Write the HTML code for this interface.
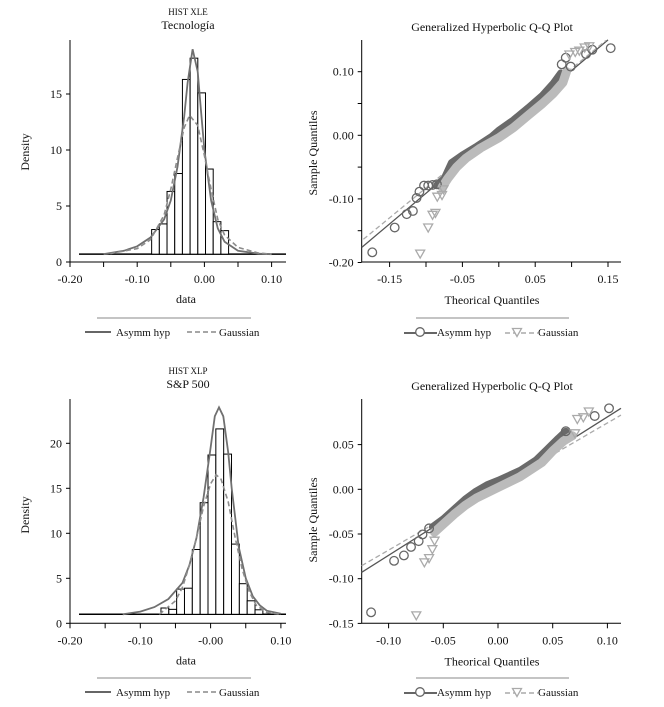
<!DOCTYPE html>
<html><head><meta charset="utf-8">
<style>
html,body{margin:0;padding:0;background:#fff;}
svg{display:block;font-family:"Liberation Serif",serif;}
</style></head>
<body>
<svg id="c" width="664" height="707" viewBox="0 0 664 707" xmlns="http://www.w3.org/2000/svg"></svg>
<script>
// ---------- Data: top histogram (Tecnologia) ----------
const h1BinStart = -0.0785;
const h1BinWidth = 0.01145;
const h1Heights = [2.9,3.4,6.3,7.9,16.3,18.2,15.1,8.3,3.6,2.8];
const h1AsymX = [-0.15,-0.12,-0.10,-0.08,-0.06,-0.05,-0.04,-0.03,-0.025,-0.0175,-0.01,-0.005,0,0.01,0.02,0.03,0.05,0.08,0.10];
const h1AsymY = [0.7,1.0,1.4,2.2,3.8,5.5,8.5,13,16,19,17,13.5,10,5.5,3,1.8,1.0,0.75,0.7];
const h1GaussX = [-0.14,-0.10,-0.08,-0.06,-0.05,-0.04,-0.03,-0.022,-0.01,0,0.01,0.02,0.03,0.05,0.08,0.10];
const h1GaussY = [0.75,1.2,2.0,4.2,6.5,9.3,12.0,13.1,12.2,9.5,6.5,3.8,2.4,1.3,0.8,0.7];
const h1YTicks = [0,5,10,15];
const h1XTicks = ["-0.20","-0.10","0.00","0.10"];
// ---------- Data: bottom histogram (S&P 500) ----------
const h2BinStart = -0.0706;
const h2BinWidth = 0.01115;
const h2Heights = [1.7,1.55,3.8,3.9,8.2,13.4,18.7,21.6,18.8,8.8,4.4,2.5,1.5];
const h2AsymX = [-0.125,-0.1,-0.08,-0.06,-0.04,-0.03,-0.02,-0.01,0,0.006,0.012,0.018,0.025,0.03,0.04,0.05,0.06,0.07,0.08,0.1];
const h2AsymY = [1.0,1.3,1.8,2.7,4.5,6.5,9.5,14,19.5,23,24,23,19,15,8.5,5,3,2,1.4,1.05];
const h2GaussX = [-0.073,-0.05,-0.04,-0.03,-0.02,-0.01,0,0.008,0.015,0.025,0.035,0.045,0.055,0.065,0.08,0.1];
const h2GaussY = [1.0,2.5,4,6.5,9.5,13,15.5,16.5,16,13.5,9.5,6,3.5,2,1.2,1.0];
const h2YTicks = [0,5,10,15,20];
const h2XTicks = ["-0.20","-0.10","-0.00","0.10"];
// ---------- Data: top QQ ----------
const q1CircX = [-0.1738,-0.143,-0.1265,-0.118,-0.113,-0.109,-0.1027,-0.097,-0.091,-0.085,0.0864,0.092,0.0988,0.1198,0.1285,0.1537];
const q1CircY = [-0.184,-0.145,-0.124,-0.119,-0.0986,-0.0886,-0.079,-0.079,-0.078,-0.077,0.1116,0.122,0.108,0.1278,0.1346,0.137];
const q1DarkX = [-0.085,-0.075,-0.065,-0.05,-0.03,-0.01,0.0,0.02,0.04,0.06,0.075,0.085];
const q1DarkY = [-0.078,-0.068,-0.043,-0.031,-0.017,-0.002,0.008,0.024,0.043,0.063,0.082,0.098];
const q1TriX = [-0.108,-0.097,-0.091,-0.087,-0.0845,-0.078,-0.076,0.097,0.105,0.1106,0.118,0.1243];
const q1TriY = [-0.186,-0.145,-0.125,-0.122,-0.0965,-0.094,-0.085,0.127,0.131,0.133,0.138,0.14];
const q1LightX = [-0.078,-0.07,-0.058,-0.045,-0.025,0.0,0.02,0.04,0.06,0.075,0.088,0.093];
const q1LightY = [-0.082,-0.068,-0.05,-0.036,-0.02,-0.004,0.012,0.031,0.05,0.066,0.083,0.1];
const q1RefAsym = [-0.188,-0.176,0.150,0.150];
const q1RefGauss = [-0.186,-0.1635,0.147,0.149];
const q1XTicks = ["-0.15","-0.05","0.05","0.15"];
const q1YTicks = ["-0.20","-0.10","0.00","0.10"];
// ---------- Data: bottom QQ ----------
const q2CircX = [-0.116,-0.095,-0.086,-0.0795,-0.0725,-0.069,-0.063,0.062,0.0884,0.1015];
const q2CircY = [-0.1376,-0.080,-0.074,-0.0645,-0.058,-0.0505,-0.0437,0.065,0.082,0.0906];
const q2DarkX = [-0.06,-0.05,-0.04,-0.03,-0.02,-0.01,0.0,0.02,0.035,0.045,0.055,0.062];
const q2DarkY = [-0.042,-0.033,-0.022,-0.011,-0.002,0.005,0.010,0.021,0.033,0.045,0.057,0.065];
const q2TriX = [-0.0747,-0.0673,-0.063,-0.06,-0.058,0.0704,0.0725,0.078,0.083];
const q2TriY = [-0.141,-0.0817,-0.077,-0.067,-0.0575,0.0626,0.0786,0.0805,0.087];
const q2LightX = [-0.058,-0.05,-0.04,-0.03,-0.02,0,0.02,0.04,0.05,0.06,0.068];
const q2LightY = [-0.048,-0.039,-0.028,-0.018,-0.01,0.002,0.014,0.03,0.043,0.054,0.06];
const q2RefAsym = [-0.1246,-0.0929,0.1124,0.0906];
const q2RefGauss = [-0.1246,-0.0855,0.1124,0.083];
const q2XTicks = ["-0.10","-0.05","0.00","0.05","0.10"];
const q2YTicks = ["-0.15","-0.10","-0.05","0.00","0.05"];

const NS="http://www.w3.org/2000/svg";
const svg=document.getElementById('c');
function mk(tag,attrs,parent){const e=document.createElementNS(NS,tag);for(const k in attrs)e.setAttribute(k,attrs[k]);(parent||svg).appendChild(e);return e;}
function txt(s,x,y,size,anchor,parent,extra){const t=mk('text',Object.assign({x:x,y:y,'font-size':size,'text-anchor':anchor||'middle',fill:'#111'},extra||{}),parent);t.textContent=s;return t;}
function poly(xs,ys,sx,sy){return xs.map((v,i)=>sx(v).toFixed(1)+','+sy(ys[i]).toFixed(1)).join(' ');}

function hist(o){
  const g=mk('g',{});
  
  
  const sx=v=>o.x0+(v-o.xmin)*o.xs, sy=v=>o.y0-v*o.ys;
  mk('line',{x1:o.x0,y1:o.y0,x2:o.xend,y2:o.y0,stroke:'#000','stroke-width':1},g);
  mk('line',{x1:o.x0,y1:o.y0,x2:o.x0,y2:o.ytop,stroke:'#000','stroke-width':1},g);
  o.yt.forEach(v=>{mk('line',{x1:o.x0-4,y1:sy(v),x2:o.x0,y2:sy(v),stroke:'#000'},g);txt(String(v),o.x0-8,sy(v)+4,12,'end',g);});
  for(let i=0;i<7;i++){const v=-0.2+i*0.05;mk('line',{x1:sx(v),y1:o.y0,x2:sx(v),y2:o.y0+5,stroke:'#000'},g);}
  o.xt.forEach((s,i)=>txt(s,sx(-0.2+i*0.1),o.y0+21,12,'middle',g));
  txt('data',(o.x0+o.xend)/2+8,o.y0+41,12,'middle',g);
  const yl=txt('Density',29,o.ymid,12,'middle',g,{transform:'rotate(-90 29 '+o.ymid+')'});
  
  
  txt(o.t1,188,o.ytop-25,9,'middle',g);
  txt(o.t2,188,o.ytop-11,12,'middle',g);
  mk('line',{x1:o.x0+9,y1:sy(o.base),x2:o.xend,y2:sy(o.base),stroke:'#000','stroke-width':1.5},g);
  o.h.forEach((v,i)=>{
    const a=o.bs+i*o.bw;
    const r=mk('rect',{x:sx(a),y:sy(v),width:o.bw*o.xs,height:sy(o.base)-sy(v),fill:'#fff',stroke:'#000','stroke-width':1},g);
    
    
  });
  const c1=mk('polyline',{points:poly(o.ax,o.ay,sx,sy),fill:'none',stroke:'#707070','stroke-width':1.8},g);
  
  
  const c2=mk('polyline',{points:poly(o.gx,o.gy,sx,sy),fill:'none',stroke:'#8c8c8c','stroke-width':1.6,'stroke-dasharray':'5,3'},g);
  
  
  const L=o.ly;
  const lg=mk('g',{},g);
  
  
  mk('line',{x1:97,y1:L,x2:251,y2:L,stroke:'#888','stroke-width':1},lg);
  mk('line',{x1:85,y1:L+14,x2:111,y2:L+14,stroke:'#666','stroke-width':2},lg);
  txt('Asymm hyp',116,L+18,11,'start',lg);
  mk('line',{x1:187,y1:L+14,x2:217,y2:L+14,stroke:'#888','stroke-width':1.5,'stroke-dasharray':'5,3'},lg);
  txt('Gaussian',219,L+18,11,'start',lg);
}

function qq(o){
  const g=mk('g',{});
  
  
  const sx=v=>o.xz+v*o.xs, sy=v=>o.yz-v*o.ys;
  mk('line',{x1:o.x0,y1:o.y0,x2:o.xend,y2:o.y0,stroke:'#000'},g);
  mk('line',{x1:o.x0,y1:o.y0,x2:o.x0,y2:o.ytop,stroke:'#000'},g);
  o.xtv.forEach(v=>{mk('line',{x1:sx(v),y1:o.y0,x2:sx(v),y2:o.y0+5,stroke:'#000'},g);});
  o.xt.forEach(s=>txt(s,sx(parseFloat(s)),o.y0+21,12,'middle',g));
  o.ytv.forEach(v=>{mk('line',{x1:o.x0-4,y1:sy(v),x2:o.x0,y2:sy(v),stroke:'#000'},g);});
  o.yt.forEach(s=>txt(s,o.x0-8,sy(parseFloat(s))+4,12,'end',g));
  txt('Theorical Quantiles',492,o.y0+42,12,'middle',g);
  const yl=txt('Sample Quantiles',317,o.ymid,12,'middle',g,{transform:'rotate(-90 317 '+o.ymid+')'});
  
  
  txt('Generalized Hyperbolic Q-Q Plot',492,o.ytop-9,12,'middle',g);
  const r1=mk('line',{x1:sx(o.ra[0]),y1:sy(o.ra[1]),x2:sx(o.ra[2]),y2:sy(o.ra[3]),stroke:'#555','stroke-width':1.3},g);
  
  
  const r2=mk('line',{x1:sx(o.rg[0]),y1:sy(o.rg[1]),x2:sx(o.rg[2]),y2:sy(o.rg[3]),stroke:'#aaa','stroke-width':1.3,'stroke-dasharray':'5,3'},g);
  
  
  const b1=mk('polyline',{points:poly(o.dx,o.dy,sx,sy),fill:'none',stroke:'#6a6a6a','stroke-width':7,'stroke-linejoin':'round','stroke-linecap':'round'},g);
  
  
  const b2=mk('polyline',{points:poly(o.lx,o.ly2,sx,sy),fill:'none',stroke:'#bbb','stroke-width':9,'stroke-linejoin':'round','stroke-linecap':'round'},g);
  
  
  o.cx.forEach((v,i)=>{const c=mk('circle',{cx:sx(v),cy:sy(o.cy[i]),r:4.3,fill:'none',stroke:'#666','stroke-width':1.3},g);
    
    });
  o.tx.forEach((v,i)=>{const X=sx(v),Y=sy(o.ty[i]);
    const t=mk('polygon',{points:(X-4.5)+','+(Y-3.5)+' '+(X+4.5)+','+(Y-3.5)+' '+X+','+(Y+4.5),fill:'none',stroke:'#aaa','stroke-width':1.3},g);
    
    });
  const L=o.legy;
  const lg=mk('g',{},g);
  
  
  mk('line',{x1:416,y1:L,x2:569,y2:L,stroke:'#888'},lg);
  mk('line',{x1:404,y1:L+15,x2:437,y2:L+15,stroke:'#666','stroke-width':2},lg);
  mk('circle',{cx:420,cy:L+14,r:4.3,fill:'#fff',stroke:'#666','stroke-width':1.3},lg);
  txt('Asymm hyp',437,L+18,11,'start',lg);
  mk('line',{x1:505,y1:L+15,x2:538,y2:L+15,stroke:'#aaa','stroke-width':1.5,'stroke-dasharray':'5,3'},lg);
  mk('polygon',{points:'512.5,'+(L+10.5)+' 521.5,'+(L+10.5)+' 517,'+(L+18.5),fill:'#fff',stroke:'#aaa','stroke-width':1.3},lg);
  txt('Gaussian',538,L+18,11,'start',lg);
}

hist({name:'hist-tecnologia',x0:70,xend:286,xmin:-0.2,xs:672,y0:262,ys:11.2,ytop:40,ymid:152,
  yt:h1YTicks,xt:h1XTicks,t1:'HIST XLE',t2:'Tecnología',base:0.7,h:h1Heights,bs:h1BinStart,bw:h1BinWidth,
  ax:h1AsymX,ay:h1AsymY,gx:h1GaussX,gy:h1GaussY,ly:318});
hist({name:'hist-sp500',x0:70,xend:286,xmin:-0.2,xs:703,y0:623.3,ys:9,ytop:399,ymid:515,
  yt:h2YTicks,xt:h2XTicks,t1:'HIST XLP',t2:'S&P 500',base:1.0,h:h2Heights,bs:h2BinStart,bw:h2BinWidth,
  ax:h2AsymX,ay:h2AsymY,gx:h2GaussX,gy:h2GaussY,ly:678});
qq({name:'qq-plot-tecnologia',x0:361.7,xend:621,y0:262,ytop:40,xz:498.8,xs:728,yz:135.3,ys:636,ymid:153,
  xtv:[-0.15,-0.10,-0.05,0,0.05,0.10,0.15],xt:q1XTicks,ytv:[-0.2,-0.15,-0.1,-0.05,0,0.05,0.1],yt:q1YTicks,
  ra:q1RefAsym,rg:q1RefGauss,dx:q1DarkX,dy:q1DarkY,lx:q1LightX,ly2:q1LightY,cx:q1CircX,cy:q1CircY,tx:q1TriX,ty:q1TriY,legy:318});
qq({name:'qq-plot-sp500',x0:361.7,xend:621,y0:623.3,ytop:399,xz:498,xs:1094,yz:489.3,ys:894,ymid:520,
  xtv:[-0.10,-0.05,0,0.05,0.10],xt:q2XTicks,ytv:[-0.15,-0.10,-0.05,0,0.05],yt:q2YTicks,
  ra:q2RefAsym,rg:q2RefGauss,dx:q2DarkX,dy:q2DarkY,lx:q2LightX,ly2:q2LightY,cx:q2CircX,cy:q2CircY,tx:q2TriX,ty:q2TriY,legy:678});
</script>
</body></html>
